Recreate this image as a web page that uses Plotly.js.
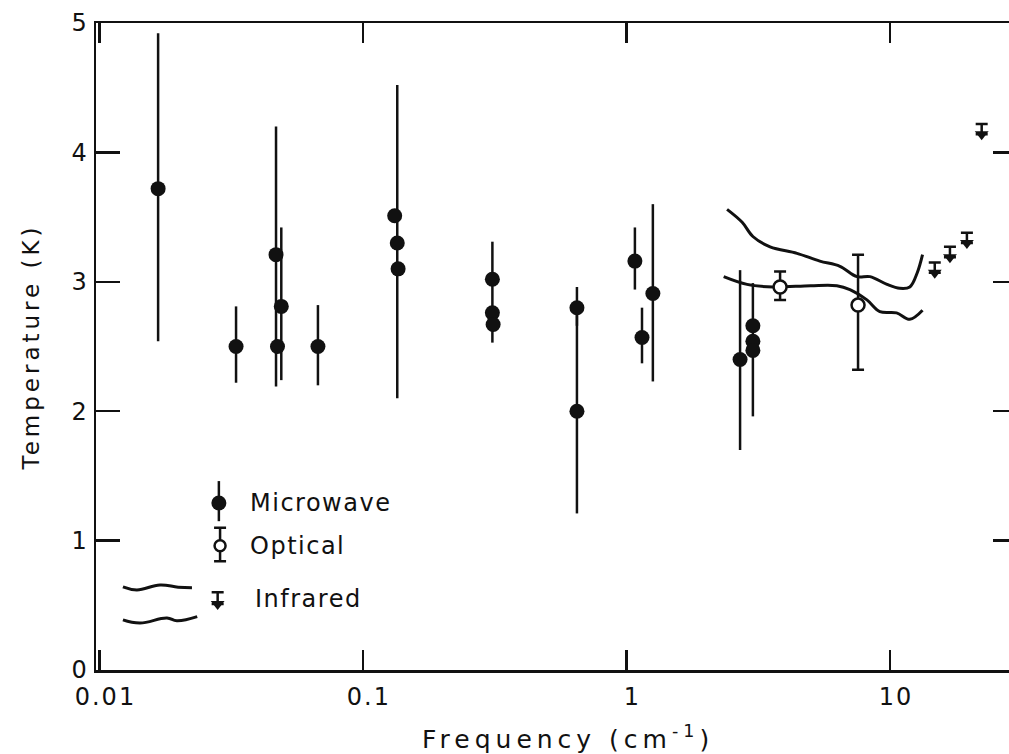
<!DOCTYPE html>
<html>
<head>
<meta charset="utf-8">
<script src="https://cdn.plot.ly/plotly-3.0.1.min.js"></script>
<style>
  html, body { margin: 0; padding: 0; background: #fff; overflow: hidden; }
  #chart { width: 1009px; height: 754px; }
  .g-ytitle text { letter-spacing: 4px; }
  .xtick text, .ytick text { letter-spacing: 2px; }
  .annotation-text { letter-spacing: 1.5px; }
  .annotation[data-index="3"] .annotation-text { letter-spacing: 5px; }
</style>
</head>
<body>
<div id="chart"></div>
<script>
// ---- Microwave measurements (frequency cm^-1, temperature K, error bar top/bottom; null = no bar)
const mwFreq = [0.0167, 0.033, 0.0468, 0.0474, 0.0490, 0.0675, 0.132, 0.135, 0.136, 0.310, 0.310, 0.312, 0.649, 0.649, 1.077, 1.146, 1.26, 2.70, 3.02, 3.02, 3.02];
const mwTemp = [3.72,   2.50,  3.21,   2.50,   2.81,   2.50,   3.51,  3.30,  3.10,  3.02,  2.76,  2.67,  2.80,  2.00,  3.16,  2.57,  2.91, 2.40, 2.66, 2.54, 2.47];
const mwTop  = [4.92,   2.81,  4.20,   null,   3.42,   2.82,   null,  4.52,  null,  3.31,  null,  null,  2.96,  2.80,  3.42,  2.80,  3.60, 3.09, 2.99, null, null];
const mwBot  = [2.54,   2.22,  2.19,   null,   2.24,   2.20,   null,  2.10,  null,  2.53,  null,  null,  2.66,  1.21,  2.94,  2.37,  2.23, 1.70, 1.96, null, null];

// ---- Optical measurements
const opFreq = [3.83, 7.57];
const opTemp = [2.96, 2.82];
const opTop  = [3.08, 3.21];
const opBot  = [2.86, 2.32];

// ---- Infrared upper limits
const irFreq  = [14.8, 16.9, 19.6, 22.3];
const irLimit = [3.15, 3.27, 3.38, 4.22];

// ---- Infrared spectrum bounds (two curves)
const irUpFreq = [2.41, 2.75, 3.02, 3.51, 4.44, 5.42, 6.46, 7.50, 8.40, 9.75, 10.9, 11.9, 12.7, 13.3];
const irUpTemp = [3.56, 3.46, 3.35, 3.27, 3.22, 3.16, 3.12, 3.04, 3.04, 2.98, 2.95, 2.96, 3.07, 3.21];
const irLoFreq = [2.34, 2.87, 3.60, 5.00, 6.29, 7.05, 8.18, 9.16, 10.6, 11.9, 13.3];
const irLoTemp = [3.04, 2.98, 2.96, 2.97, 2.97, 2.94, 2.86, 2.77, 2.76, 2.71, 2.78];

// ---- Legend (drawn inside the plot)
const legLabels = ["Microwave", "Optical", "Infrared"];
const legSymFreq = [0.0284, 0.0287, 0.0281];
const legTemp = [1.29, 0.96, 0.55];
const legTextFreq = [0.0366, 0.0366, 0.0383];
const legWave1Freq = [0.01228, 0.01387, 0.01698, 0.01990, 0.02245];
const legWave1Temp = [0.642, 0.619, 0.657, 0.640, 0.636];
const legWave2Freq = [0.01228, 0.01425, 0.01804, 0.01968, 0.02350];
const legWave2Temp = [0.387, 0.363, 0.402, 0.380, 0.412];

// axis ticks and titles
const xTickVals = [0.01, 0.1, 1, 10];
const xTickText = ["0.01", "0.1", "1", "10"];
const yTickVals = [0, 1, 2, 3, 4, 5];
const xTitle = "Frequency (cm<sup>-1</sup>)";
const yTitle = "Temperature (K)";

const INK = "#111";
const FONT = "DejaVu Sans, sans-serif";
const plus = (v, t) => t.map((x, i) => x === null ? 0 : x - v[i]);
const minus = (v, b) => b.map((x, i) => x === null ? 0 : v[i] - x);

const traces = [
  { type: "scatter", mode: "lines", x: irUpFreq, y: irUpTemp, yaxis: "y2",
    line: { color: INK, width: 3, shape: "spline", smoothing: 1 }, hoverinfo: "skip" },
  { type: "scatter", mode: "lines", x: irLoFreq, y: irLoTemp,
    line: { color: INK, width: 3, shape: "spline", smoothing: 1 }, hoverinfo: "skip" },
  { type: "scatter", mode: "markers", x: mwFreq, y: mwTemp,
    marker: { symbol: "circle", size: 15, color: INK },
    error_y: { type: "data", symmetric: false, array: plus(mwTemp, mwTop), arrayminus: minus(mwTemp, mwBot),
               width: 0, thickness: 2.5, color: INK } },
  { type: "scatter", mode: "markers", x: opFreq, y: opTemp,
    marker: { symbol: "circle", size: 13, color: "#fff", line: { width: 2.5, color: INK } },
    error_y: { type: "data", symmetric: false, array: plus(opTemp, opTop), arrayminus: minus(opTemp, opBot),
               width: 6, thickness: 2.5, color: INK } },
  { type: "scatter", mode: "markers", x: irFreq, y: irLimit.map(v => v - 0.08),
    marker: { symbol: "triangle-down", size: 12, color: INK },
    error_y: { type: "data", symmetric: false, array: irLimit.map(() => 0.08), arrayminus: irLimit.map(() => 0),
               width: 6, thickness: 2.5, color: INK } },
  // legend symbols
  { type: "scatter", mode: "markers", x: [legSymFreq[0]], y: [legTemp[0]],
    marker: { symbol: "circle", size: 15, color: INK },
    error_y: { type: "data", symmetric: false, array: [0.17], arrayminus: [0.14], width: 0, thickness: 2.5, color: INK } },
  { type: "scatter", mode: "markers", x: [legSymFreq[1]], y: [legTemp[1]],
    marker: { symbol: "circle", size: 11, color: "#fff", line: { width: 2.5, color: INK } },
    error_y: { type: "data", symmetric: false, array: [0.14], arrayminus: [0.12], width: 6, thickness: 2.5, color: INK } },
  { type: "scatter", mode: "markers", x: [legSymFreq[2]], y: [legTemp[2] - 0.04],
    marker: { symbol: "triangle-down", size: 12, color: INK },
    error_y: { type: "data", symmetric: false, array: [0.09], arrayminus: [0], width: 6, thickness: 2.5, color: INK } },
  { type: "scatter", mode: "lines", x: legWave1Freq, y: legWave1Temp,
    line: { color: INK, width: 3, shape: "spline", smoothing: 1.2 }, hoverinfo: "skip" },
  { type: "scatter", mode: "lines", x: legWave2Freq, y: legWave2Temp,
    line: { color: INK, width: 3, shape: "spline", smoothing: 1.2 }, hoverinfo: "skip" }
];

const annotations = legLabels.map((t, i) => ({
  x: Math.log10(legTextFreq[i]), y: legTemp[i], xref: "x", yref: "y",
  text: t, showarrow: false, xanchor: "left", yanchor: "middle",
  font: { family: FONT, size: 24, color: INK }
}));
// x-axis title placed as an annotation (centred slightly right of the plot centre, as in the original)
annotations.push({
  x: 0.517, y: -0.105, xref: "paper", yref: "paper",
  text: xTitle, showarrow: false, xanchor: "center", yanchor: "middle",
  font: { family: FONT, size: 25, color: INK }
});

const layout = {
  width: 1009, height: 754,
  margin: { l: 96, r: 0, t: 23, b: 84 },
  paper_bgcolor: "#fff", plot_bgcolor: "#fff",
  showlegend: false,
  font: { family: FONT, color: INK, size: 23 },
  xaxis: {
    type: "log", range: [-2.013, 1.452],
    tickvals: xTickVals, ticktext: xTickText,
    ticks: "inside", ticklen: 20, tickwidth: 2.5, tickcolor: INK,
    showline: true, linewidth: 2.5, linecolor: INK, mirror: "ticks",
    showgrid: false, zeroline: false,
    ticklabelshift: 6, ticklabelstandoff: 4,
    tickfont: { size: 24, family: FONT }
  },
  yaxis: {
    range: [0, 5], tickvals: yTickVals,
    ticks: "inside", ticklen: 24, tickwidth: 2.5, tickcolor: INK,
    showline: true, linewidth: 2.5, linecolor: INK, mirror: false,
    showgrid: false, zeroline: false,
    tickfont: { size: 24, family: FONT },
    title: { text: yTitle, standoff: 26,
             font: { size: 23, family: FONT } }
  },
  yaxis2: {
    overlaying: "y", side: "right", range: [0, 5], tickvals: [1, 2, 3, 4],
    ticks: "inside", ticklen: 16, tickwidth: 2.5, tickcolor: INK,
    showline: false, showticklabels: false, showgrid: false, zeroline: false
  },
  annotations: annotations
};

Plotly.newPlot("chart", traces, layout, { staticPlot: true, displayModeBar: false });
</script>
</body>
</html>
